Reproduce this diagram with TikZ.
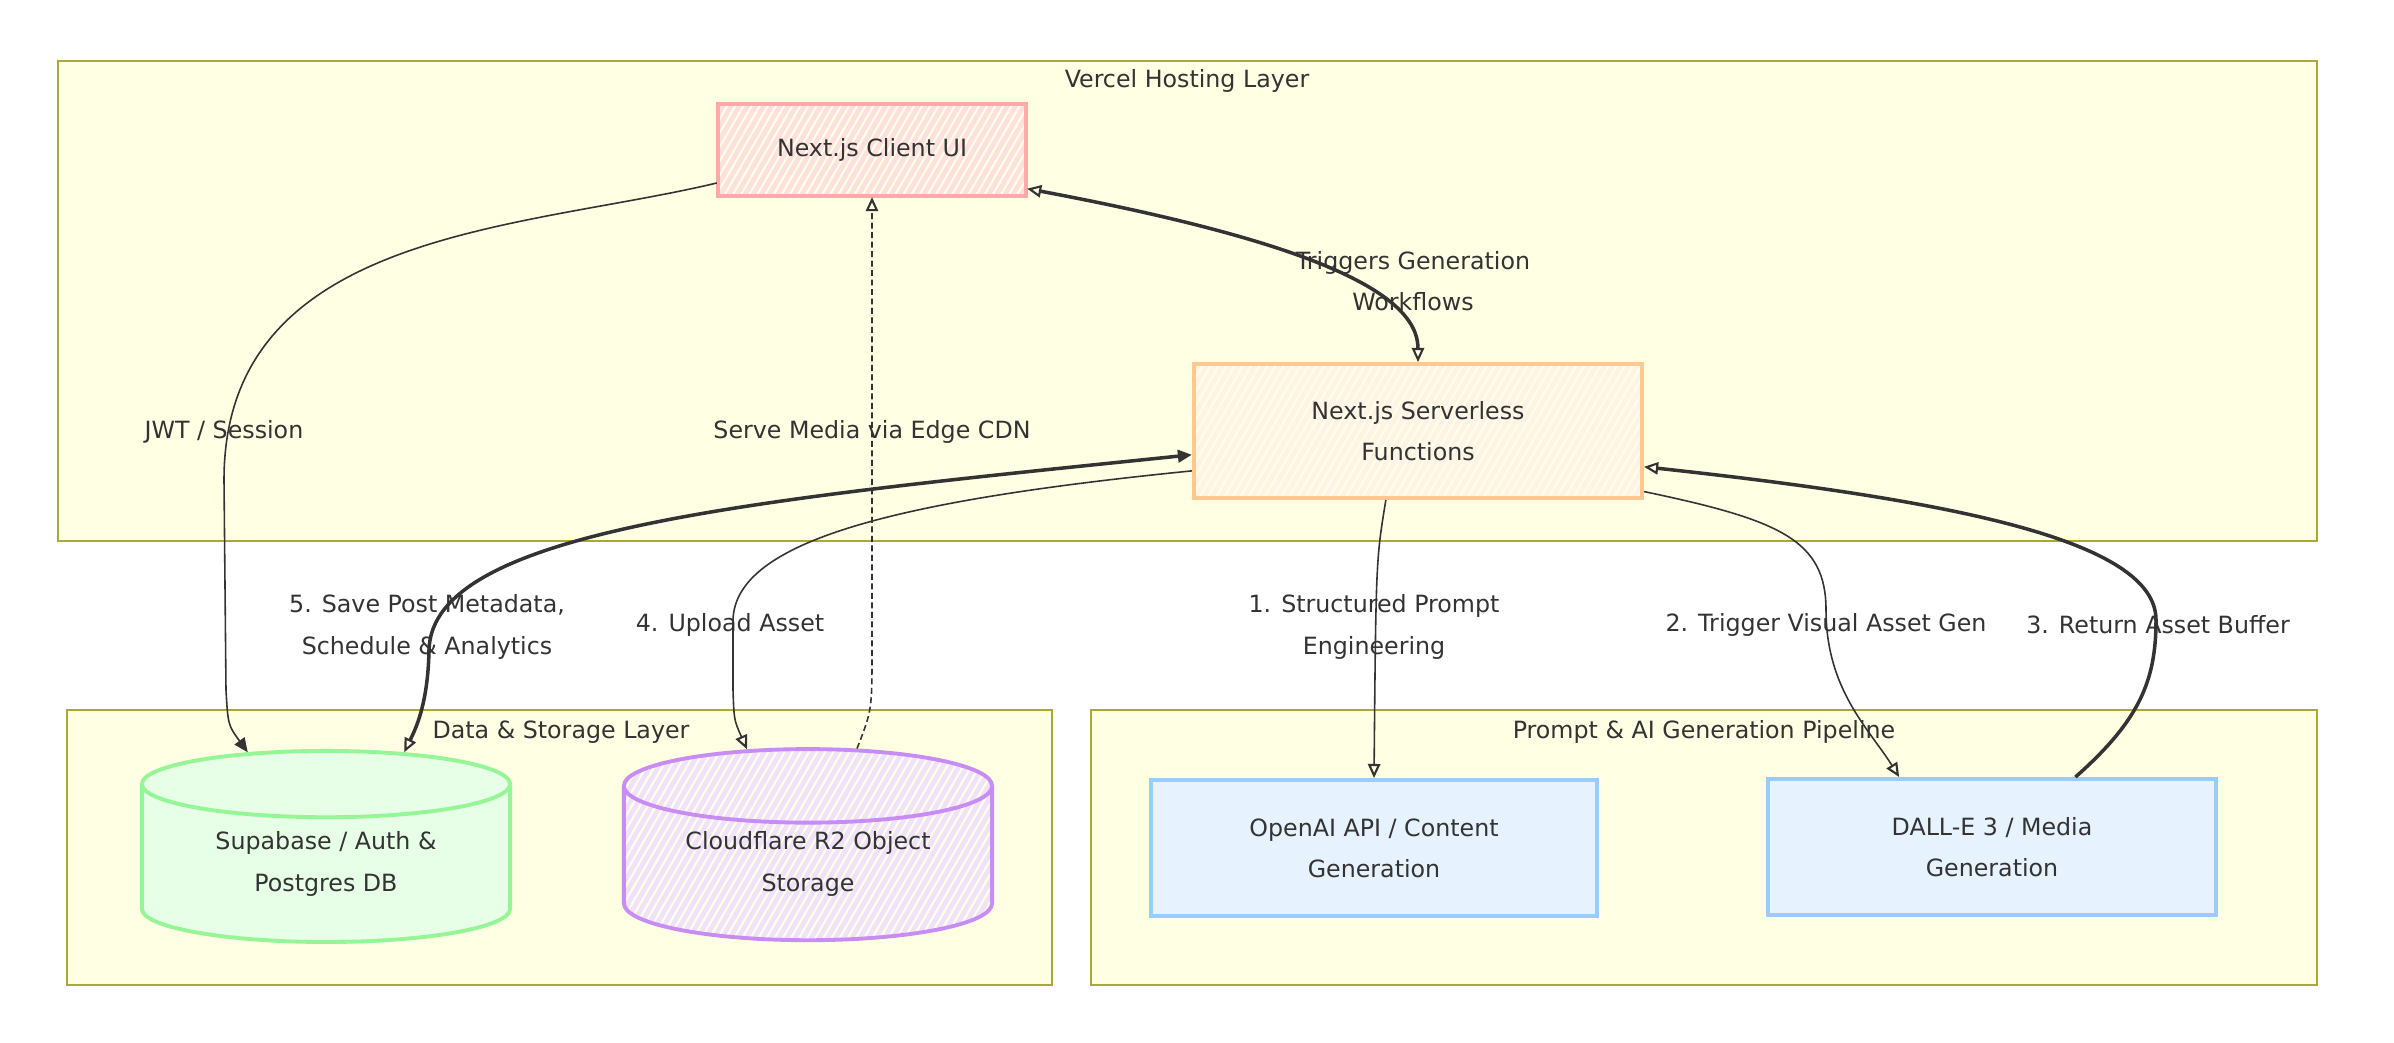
\documentclass[tikz,border=0pt]{standalone}
\usepackage{fontspec}
\setmainfont{DejaVu Sans}
\usetikzlibrary{arrows.meta,shapes.geometric,patterns.meta}
\definecolor{layerfill}{HTML}{FFFFE4}
\definecolor{layerline}{HTML}{AAAA33}
\definecolor{uifill}{HTML}{FFE0E0}
\definecolor{uiline}{HTML}{FFAAAA}
\definecolor{fnfill}{HTML}{FFF2E6}
\definecolor{fnline}{HTML}{FFC891}
\definecolor{dbfill}{HTML}{E6FFE6}
\definecolor{dbline}{HTML}{96F596}
\definecolor{objfill}{HTML}{F0E1FF}
\definecolor{objline}{HTML}{C88CF5}
\definecolor{aifill}{HTML}{E6F3FF}
\definecolor{ailine}{HTML}{99CCFF}
\definecolor{stripe}{HTML}{FFFFE6}
\definecolor{wirecol}{HTML}{333333}
\newcommand{\diagfont}{\fontsize{6.75}{11.7}\selectfont}
\tikzset{>={Triangle[open,length=4pt,width=3.5pt,line width=0.6pt]}}
\begin{document}
\begin{tikzpicture}[x=0.01cm, y=-0.01cm,
  layer/.style={draw=layerline, fill=layerfill, line width=0.7pt},
  box/.style={rectangle, line width=1.1pt, align=center, font=\diagfont, text=wirecol, inner sep=0pt},
  store/.style={cylinder, shape border rotate=90, aspect=0.3, line width=1.1pt, align=center,
    font=\diagfont, text=wirecol, inner sep=0pt, minimum width=3.68cm, minimum height=1.91cm},
  hatch/.style={preaction={fill=#1}, pattern={Lines[angle=60,distance=2pt,line width=0.6pt]}, pattern color=stripe},
  lbl/.style={font=\diagfont, align=center, text=wirecol},
  wire/.style={draw=wirecol, line width=0.45pt},
  heavy/.style={draw=wirecol, line width=1pt}]
  \useasboundingbox (0,0) rectangle (2394,1042);
  % layers
  \filldraw[layer] (58,61) rectangle (2317,541);
  \filldraw[layer] (67,710) rectangle (1052,985);
  \filldraw[layer] (1091,710) rectangle (2317,985);
  \node[lbl] (tHost) at (1187,81) {Vercel Hosting Layer};
  \node[lbl] (tData) at (561,732) {Data \& Storage Layer};
  \node[lbl] (tPipe) at (1704,732) {Prompt \& AI Generation Pipeline};
  % services
  \node[box, draw=uiline, hatch=uifill, minimum width=3.08cm, minimum height=0.92cm] (ui) at (872,150) {Next.js Client UI};
  \node[box, draw=fnline, hatch=fnfill, minimum width=4.48cm, minimum height=1.34cm] (fn) at (1418,431) {Next.js Serverless\\Functions};
  \node[store, draw=dbline, fill=dbfill] (db) at (326,864) {Supabase / Auth \&\\Postgres DB};
  \node[store, draw=objline, hatch=objfill] (obj) at (808,864) {Cloudflare R2 Object\\Storage};
  \node[box, draw=ailine, fill=aifill, minimum width=4.46cm, minimum height=1.36cm] (llm) at (1374,848) {OpenAI API / Content\\Generation};
  \node[box, draw=ailine, fill=aifill, minimum width=4.48cm, minimum height=1.36cm] (img) at (1992,847) {DALL-E 3 / Media\\Generation};
  % connectors
  \draw[wire, -{Triangle[length=4pt,width=3.5pt]}] (ui.192) .. controls (520,230) and (224,230) .. (224,480) -- (226,690) .. controls (228,725) .. (db.125);
  \draw[heavy, <->] (ui.-14) .. controls (1300,240) and (1418,290) .. (fn.north);
  \draw[wire, dash pattern=on 1.7pt off 1pt, ->] (obj.67) .. controls (872,710) .. (872,650) -- (ui.south);
  \draw[heavy, {Triangle[length=4pt,width=3.5pt]}->] (fn.186) .. controls (750,500) and (432,530) .. (429,650) .. controls (428,705) and (415,730) .. (db.55);
  \draw[wire, ->] (fn.190) .. controls (900,500) and (735,540) .. (733,620) -- (733,690) .. controls (734,720) .. (obj.118);
  \draw[wire, ->] (fn.245) .. controls (1376,560) .. (llm.north);
  \draw[wire, ->] (fn.-15) .. controls (1780,520) and (1826,540) .. (1826,610) .. controls (1826,690) and (1870,730) .. (img.143);
  \draw[heavy, ->] (img.40) .. controls (2140,720) and (2156,680) .. (2156,620) .. controls (2156,540) and (1950,500) .. (fn.-9);
  % labels
  \node[lbl] (lJwt) at (224,432) {JWT / Session};
  \node[lbl] (lCdn) at (872,432) {Serve Media via Edge CDN};
  \node[lbl] (lTrig) at (1413,281) {Triggers Generation\\Workflows};
  \node[lbl] (lSave) at (427,627) {5. Save Post Metadata,\\Schedule \& Analytics};
  \node[lbl] (lUp) at (730,625) {4. Upload Asset};
  \node[lbl] (lPrompt) at (1374,627) {1. Structured Prompt\\Engineering};
  \node[lbl] (lVis) at (1826,625) {2. Trigger Visual Asset Gen};
  \node[lbl] (lRet) at (2158,625) {3. Return Asset Buffer};
\end{tikzpicture}
\end{document}
